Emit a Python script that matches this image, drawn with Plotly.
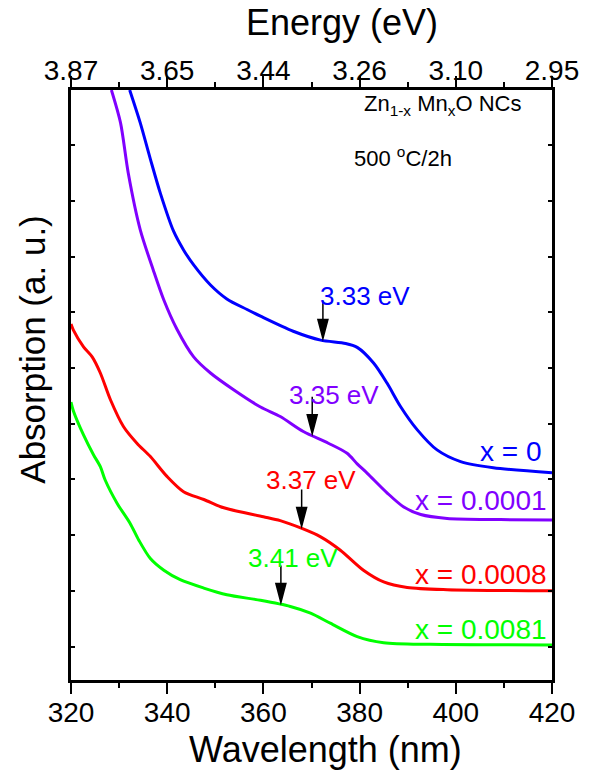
import numpy as np
import plotly.graph_objects as go

# Absorption spectra of Zn(1-x)Mn(x)O nanocrystals annealed at 500 °C / 2 h
# wavelength in nm, absorption in arbitrary units (curves offset vertically)
wl_x0 = [332.2, 334.4, 336.5, 338.6, 341.3, 343.4, 345.5, 349.0, 352.4, 356.6,
         359.4, 366.2, 371.9, 377.1, 379.5, 382.9, 385.7, 388.5, 392.0, 396.1,
         401.0, 407.8, 420.0]
ab_x0 = [10.59, 10.00, 9.35, 8.73, 8.06, 7.72, 7.45, 7.09, 6.84, 6.65,
         6.53, 6.26, 6.10, 6.04, 5.97, 5.69, 5.33, 4.91, 4.49, 4.13,
         3.92, 3.81, 3.72]

wl_x1 = [328.4, 330.3, 331.9, 334.4, 337.1, 339.3, 342.0, 345.5, 349.0, 353.8,
         359.4, 363.5, 368.3, 373.5, 377.4, 379.5, 381.6, 385.7, 389.1, 392.7,
         398.2, 409.3, 420.0]
ab_x1 = [10.59, 10.00, 9.10, 8.08, 7.36, 6.82, 6.30, 5.80, 5.51, 5.21,
         4.90, 4.73, 4.46, 4.25, 4.07, 3.88, 3.71, 3.36, 3.11, 2.97,
         2.90, 2.88, 2.87]

wl_x8 = [320.0, 320.5, 322.6, 324.4, 326.1, 328.2, 330.9, 333.7, 336.5, 340.0,
         343.4, 347.6, 351.1, 353.1, 360.0, 363.5, 368.0, 371.9, 376.0, 380.8,
         385.0, 389.9, 398.2, 420.0]
ab_x8 = [6.39, 6.28, 5.98, 5.80, 5.51, 5.03, 4.55, 4.25, 4.01, 3.65,
         3.38, 3.24, 3.11, 3.06, 2.93, 2.86, 2.72, 2.57, 2.33, 1.97,
         1.76, 1.66, 1.62, 1.60]

wl_x81 = [320.0, 320.5, 322.6, 324.7, 326.1, 327.1, 329.6, 332.3, 334.1, 336.5,
          339.3, 342.7, 347.6, 352.4, 359.4, 365.6, 369.8, 373.9, 379.5, 385.0,
          394.7, 420.0]
ab_x81 = [4.99, 4.83, 4.40, 4.04, 3.83, 3.59, 3.17, 2.81, 2.51, 2.18,
          1.97, 1.80, 1.65, 1.53, 1.43, 1.32, 1.20, 1.02, 0.78, 0.67,
          0.64, 0.63]

series_names = ["x = 0", "x = 0.0001", "x = 0.0008", "x = 0.0081"]
series_colors = ["#0000FF", "#8000FF", "#FF0000", "#00FF00"]
series_wl = [wl_x0, wl_x1, wl_x8, wl_x81]
series_ab = [ab_x0, ab_x1, ab_x8, ab_x81]

# optical band gaps marked on each spectrum
gap_ev = [3.33, 3.35, 3.37, 3.41]
gap_text = ["3.33 eV", "3.35 eV", "3.37 eV", "3.41 eV"]
gap_label_pos = [(381.2, 6.89), (374.6, 5.12), (369.8, 3.59), (366.2, 2.19)]
name_label_pos = [(418.2, 4.10), (419.3, 3.23), (419.3, 1.89), (419.3, 0.90)]

# bottom (wavelength) and top (energy) axis ticks
wl_ticks = [320, 340, 360, 380, 400, 420]
energy_ticks = ["3.87", "3.65", "3.44", "3.26", "3.10", "2.95"]

FONT = "Liberation Sans, Arial, sans-serif"

# plot area in figure pixels
W, H = 590, 777
L, R, T, B = 71, 38, 90, 97
PW, PH = W - L - R, H - T - B


def paper_x(px):
    return (px - L) / PW


def paper_y(py):
    return (H - B - py) / PH


fig = go.Figure()
for wl, ab, col in zip(series_wl, series_ab, series_colors):
    fig.add_trace(go.Scatter(x=wl, y=ab, mode="lines",
                             line=dict(color=col, width=3, shape="spline", smoothing=0.8),
                             showlegend=False, hoverinfo="skip"))

annotations = []
shapes = []
for ev, txt, (lx, ly), wl, ab, col in zip(gap_ev, gap_text, gap_label_pos,
                                          series_wl, series_ab, series_colors):
    lam = 1240.0 / ev
    yv = float(np.interp(lam, wl, ab))
    # downward arrow ending on the curve at the band-gap wavelength
    shapes.append(dict(type="path", xref="x", yref="y",
                       xsizemode="pixel", ysizemode="pixel",
                       xanchor=lam, yanchor=yv,
                       path="M0,2 L-5,21 L5,21 Z M0,20 L0,39",
                       fillcolor="black", line=dict(color="black", width=1.5)))
    annotations.append(dict(x=lx, y=ly, xref="x", yref="y", text=txt,
                            showarrow=False, xanchor="center", yanchor="middle",
                            font=dict(family=FONT, size=26, color=col)))

for name, (lx, ly), col in zip(series_names, name_label_pos, series_colors):
    annotations.append(dict(x=lx, y=ly, xref="x", yref="y", text=name,
                            showarrow=False, xanchor="right", yanchor="middle",
                            font=dict(family=FONT, size=28, color=col)))

annotations += [
    dict(x=380.5, y=10.32, xref="x", yref="y", xanchor="left", yanchor="middle",
         text="Zn<sub>1-x</sub> Mn<sub>x</sub>O NCs", showarrow=False,
         font=dict(family=FONT, size=22, color="black")),
    dict(x=378.4, y=9.39, xref="x", yref="y", xanchor="left", yanchor="middle",
         text="500 <sup>o</sup>C/2h", showarrow=False,
         font=dict(family=FONT, size=22, color="black")),
    dict(x=paper_x(325.5), y=paper_y(749), xref="paper", yref="paper",
         xanchor="center", yanchor="middle", text="Wavelength (nm)", showarrow=False,
         font=dict(family=FONT, size=36, color="black")),
    dict(x=paper_x(341.5), y=paper_y(22), xref="paper", yref="paper",
         xanchor="center", yanchor="middle", text="Energy (eV)", showarrow=False,
         font=dict(family=FONT, size=36, color="black")),
    dict(x=paper_x(31.7), y=paper_y(350), xref="paper", yref="paper",
         xanchor="center", yanchor="middle", text="Absorption (a. u.)", showarrow=False,
         textangle=-90, font=dict(family=FONT, size=35, color="black")),
]

tickfont = dict(family=FONT, size=28, color="black")
minor_ticks = dict(dtick=10, tick0=330, ticks="outside", ticklen=5,
                   tickwidth=1.5, tickcolor="black", showgrid=False)
fig.update_layout(
    width=W, height=H,
    margin=dict(l=L, r=R, t=T, b=B),
    paper_bgcolor="white", plot_bgcolor="white",
    showlegend=False,
    annotations=annotations,
    shapes=shapes,
    xaxis=dict(range=[320, 420], tickvals=wl_ticks, ticks="outside", ticklen=11,
               tickwidth=2, tickcolor="black", showline=True, linewidth=2.5,
               linecolor="black", showgrid=False, zeroline=False, mirror=False,
               tickfont=tickfont, ticklabelstandoff=-5, minor=minor_ticks),
    xaxis2=dict(range=[320, 420], overlaying="x", side="top", anchor="y",
                tickvals=wl_ticks, ticktext=energy_ticks, ticks="outside",
                ticklen=11, tickwidth=2, tickcolor="black", showline=True,
                linewidth=2.5, linecolor="black", showgrid=False, zeroline=False,
                tickfont=tickfont, ticklabelstandoff=-15, minor=minor_ticks),
    yaxis=dict(range=[0, 10.59], tick0=0.6, dtick=1, ticks="inside", ticklen=4,
               tickwidth=2, tickcolor="black", showticklabels=False,
               showline=True, linewidth=2.5, linecolor="black", mirror="ticks",
               showgrid=False, zeroline=False),
)
# keep the energy axis drawn by giving it an empty trace
fig.add_trace(go.Scatter(x=[], y=[], xaxis="x2", yaxis="y", showlegend=False))

fig.write_html("out.html")
